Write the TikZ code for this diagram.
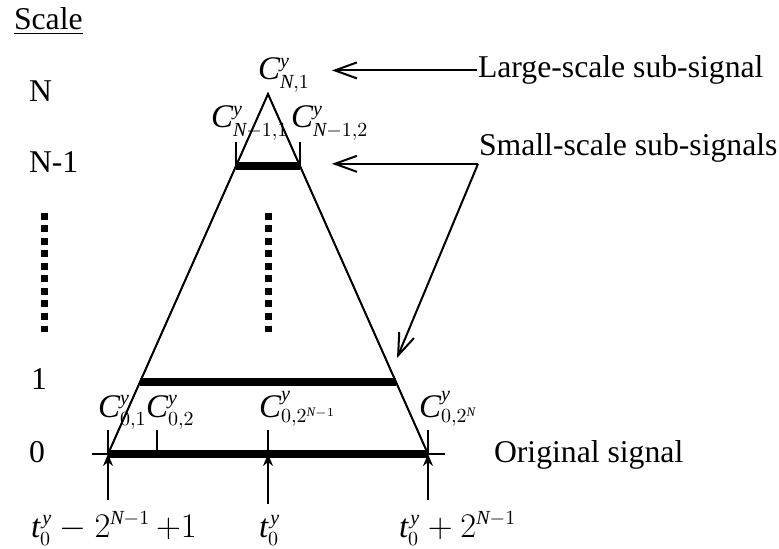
\documentclass[tikz,border=0pt]{standalone}
\usepackage{fontspec}
\setmainfont{Liberation Serif}
\usetikzlibrary{arrows.meta, calc}
\DeclareMathSizes{15.85}{16.5}{10}{6.5}
\newcommand{\vv}[1]{\mathit{#1}}
\newcommand{\Cy}[1]{$\vv{C}^{\vv{y}}_{#1}$}
\newcommand{\ty}{\vv{t}^{\mkern2mu\vv{y}}_0}
\tikzset{
  lbl/.style={inner sep=0pt},
  bar/.style={line width=4.25pt},
  dots/.style={line width=3.5pt, dash pattern=on 3.5pt off 2.75pt},
  barb/.style={-{Straight Barb[length=11pt, width=8pt]}},
  up/.style={-{Stealth[length=6pt, width=5pt]}},
}

\begin{document}
\begin{tikzpicture}[x=0.5pt, y=-0.5pt, line width=1pt, font=\fontsize{15.85}{19}\selectfont]
\useasboundingbox (0,0) rectangle (779,549);

% triangle
\coordinate (apex) at (268,94);
\coordinate (b0l) at (108,454);
\coordinate (b0r) at (428,454);
\coordinate (n1l) at ($(apex)!0.2!(b0l)$);
\coordinate (n1r) at ($(apex)!0.2!(b0r)$);
\coordinate (l1l) at ($(apex)!0.8!(b0l)$);
\coordinate (l1r) at ($(apex)!0.8!(b0r)$);
\draw (b0l) -- (apex) -- (b0r);
\draw[bar] (n1l) -- (n1r);
\draw[bar] (l1l) -- (l1r);
\draw ($(b0l)+(-16,0)$) -- ($(b0r)+(17,0)$);
\draw[bar] (b0l) -- (b0r);

% ticks
\foreach \x in {108,157,268,428}
    \draw (\x,430) -- (\x,454);
\draw (n1l) -- ++(0,-24);
\draw (n1r) -- ++(0,-24);

% scale axis
\node[lbl, anchor=base west] (scale) at (13,30) {\underline{Scale}};
\node[lbl, anchor=base west] (lvN) at (28,102) {N};
\node[lbl, anchor=base west] (lvN1) at (28,173) {N-1};
\node[lbl, anchor=base west] (lv1) at (30,389) {1};
\node[lbl, anchor=base west] (lv0) at (28,462) {0};
\draw[dots] (44,213) -- (44,332);
\draw[dots] (268,213) -- (268,332);

% coefficients
\node[lbl, anchor=base west] (cN) at (257,80) {\Cy{\vv{N},1}};
\node[lbl, anchor=base west] (cN11) at (210,128) {\Cy{\vv{N}-1,1}};
\node[lbl, anchor=base west] (cN12) at (290,128) {\Cy{\vv{N}-1,2}};
\node[lbl, anchor=base west] (c01) at (97,417) {\Cy{0,1}};
\node[lbl, anchor=base west] (c02) at (145,417) {\Cy{0,2}};
\node[lbl, anchor=base west] (c0m) at (258,417) {\Cy{0,2^{\vv{N}-1}}};
\node[lbl, anchor=base west] (c0e) at (418,417) {\Cy{0,2^{\vv{N}}}};

% time marks
\node[lbl, anchor=base west] (tl) at (30,537) {$\ty-2^{\vv{N}-1}\,{+}1$};
\node[lbl, anchor=base west] (tm) at (258,537) {$\ty$};
\node[lbl, anchor=base west] (tr) at (398,537) {$\ty+2^{\vv{N}-1}$};
\coordinate (mid) at (268,454);
\draw[up] ([yshift=5pt]tl.north -| b0l) -- (b0l);
\draw[up] ([yshift=5pt]tm.north -| mid) -- (mid);
\draw[up] ([yshift=5pt]tr.north -| b0r) -- (b0r);

% annotations
\node[lbl, anchor=base west] (lg) at (477,78) {Large-scale sub-signal};
\node[lbl, anchor=base west] (sm) at (478,156) {Small-scale sub-signals};
\node[lbl, anchor=base west] (orig) at (493,462) {Original signal};
\coordinate (tipx) at (332,0);
\coordinate (fork) at (sm.south west);
\coordinate (l1tip) at (397,358);
\draw[barb] (lg.west) -- (lg.west -| tipx);
\draw[barb] (fork) -- (fork -| tipx);
\draw[barb] (fork) -- (l1tip);

\end{tikzpicture}
\end{document}
